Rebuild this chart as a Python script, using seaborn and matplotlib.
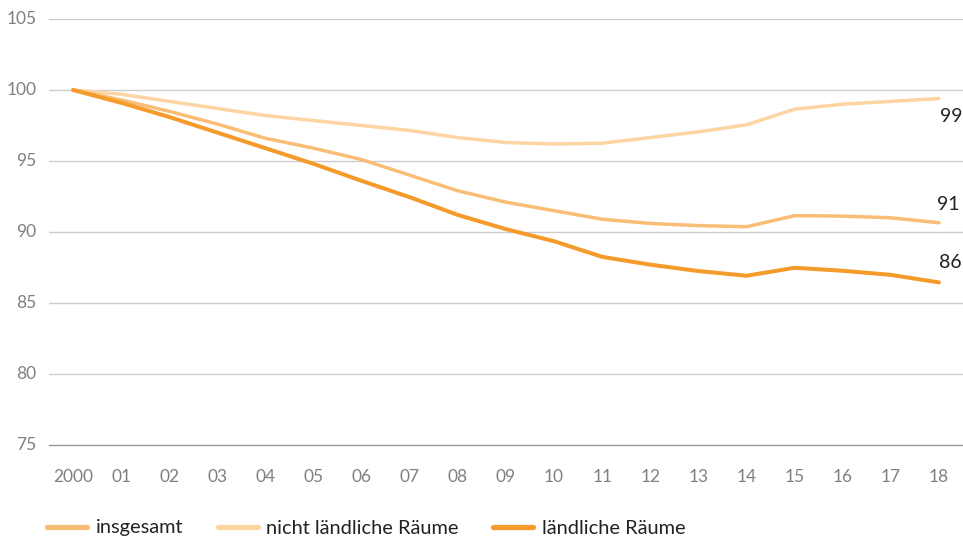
import matplotlib
matplotlib.use("Agg")
import matplotlib.pyplot as plt
from matplotlib.lines import Line2D
import seaborn as sns
import pandas as pd

years = ["2000", "01", "02", "03", "04", "05", "06", "07", "08", "09",
         "10", "11", "12", "13", "14", "15", "16", "17", "18"]
insgesamt = [100, 99.3, 98.5, 97.6, 96.6, 95.9, 95.1, 94.0, 92.9, 92.1,
             91.5, 90.9, 90.6, 90.45, 90.37, 91.15, 91.12, 91.0, 90.65]
nicht_laendlich = [100, 99.7, 99.2, 98.7, 98.2, 97.85, 97.5, 97.15, 96.65, 96.3,
                   96.2, 96.25, 96.65, 97.05, 97.55, 98.65, 99.0, 99.2, 99.4]
laendlich = [100, 99.1, 98.1, 97.0, 95.9, 94.8, 93.6, 92.45, 91.2, 90.2,
             89.35, 88.25, 87.7, 87.25, 86.92, 87.48, 87.27, 86.98, 86.45]

series_names = ["insgesamt", "nicht ländliche Räume", "ländliche Räume"]
colors = {"insgesamt": "#F9BD75", "nicht ländliche Räume": "#FDD5A2",
          "ländliche Räume": "#F49B2C"}
widths = {"insgesamt": 2.5, "nicht ländliche Räume": 2.5, "ländliche Räume": 2.9}

rows = []
for name, vals in [("nicht ländliche Räume", nicht_laendlich),
                   ("insgesamt", insgesamt),
                   ("ländliche Räume", laendlich)]:
    for i, v in enumerate(vals):
        rows.append({"idx": i, "value": v, "series": name})
df = pd.DataFrame(rows)

sns.set_theme(style="white")
plt.rcParams["font.family"] = ["Lato", "DejaVu Sans"]

fig = plt.figure(figsize=(9.63, 5.42), dpi=100)
ax = fig.add_axes([49 / 963, 97 / 542, 1 - 49 / 963, (445 - 19) / 542])

for name in ["nicht ländliche Räume", "insgesamt", "ländliche Räume"]:
    sub = df[df["series"] == name]
    sns.lineplot(data=sub, x="idx", y="value", color=colors[name],
                 linewidth=widths[name], ax=ax, legend=False,
                 solid_capstyle="round", solid_joinstyle="round", zorder=3)

ax.set_xlim(-0.5, len(years) - 0.5)
ax.set_ylim(75, 105)
ax.set_yticks([75, 80, 85, 90, 95, 100, 105])
ax.set_yticklabels(["75", "80", "85", "90", "95", "100", "105"])
for y in [80, 85, 90, 95, 100, 105]:
    ax.axhline(y, color="#CCCCCC", linewidth=1.0, zorder=1)

ax.set_xticks(range(len(years)))
ax.set_xticklabels(years)
ax.set_xticks([i - 0.5 for i in range(len(years))], minor=True)
ax.tick_params(axis="x", which="major", length=0, pad=17, labelsize=12.5,
               labelcolor="#808080")
ax.tick_params(axis="x", which="minor", length=11, width=0.8, color="#999999",
               direction="out")
ax.tick_params(axis="y", length=0, pad=9, labelsize=12.5, labelcolor="#808080")
for lab in ax.get_yticklabels():
    lab.set_verticalalignment("center")

for s in ["top", "right", "left"]:
    ax.spines[s].set_visible(False)
ax.spines["bottom"].set_color("#999999")
ax.spines["bottom"].set_linewidth(1.0)
ax.set_xlabel("")
ax.set_ylabel("")
ax.grid(False)

last = len(years) - 1
offsets = {"nicht ländliche Räume": (9, -13), "insgesamt": (7, 13),
           "ländliche Räume": (8, 14)}
for name, vals in [("nicht ländliche Räume", nicht_laendlich),
                   ("insgesamt", insgesamt),
                   ("ländliche Räume", laendlich)]:
    ax.annotate(f"{round(vals[-1])}", xy=(last, vals[-1]),
                xytext=offsets[name], textcoords="offset points",
                ha="center", va="center", fontsize=14, color="#222222",
                annotation_clip=False)

handles = [Line2D([0], [0], color=colors[n], linewidth=3.8,
                  solid_capstyle="round") for n in series_names]
fig.legend(handles, series_names, loc="center left",
           bbox_to_anchor=(47 / 963, 1 - 528 / 542), ncol=3, frameon=False,
           fontsize=14.4, handlelength=2.0, handletextpad=0.45,
           columnspacing=1.7, borderpad=0, borderaxespad=0,
           labelcolor="#222222")

fig.savefig("out.png", dpi=100)
